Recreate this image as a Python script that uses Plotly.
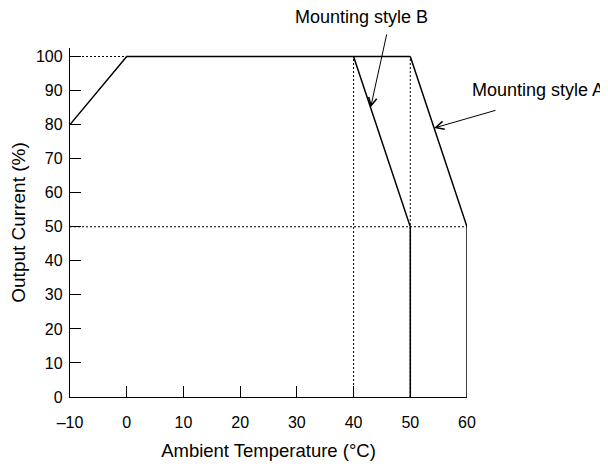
import plotly.graph_objects as go

# Data
base_x = [-10, 0, 50]
base_y = [80, 100, 100]
style_a_x = [50, 60, 60]
style_a_y = [100, 50, 0]
style_b_x = [40, 50, 50]
style_b_y = [100, 50, 0]
x_ticks = [-10, 0, 10, 20, 30, 40, 50, 60]
x_tick_labels = ["\u201310", "0", "10", "20", "30", "40", "50", "60"]
y_ticks = [0, 10, 20, 30, 40, 50, 60, 70, 80, 90, 100]

FONT = "Liberation Sans, Arial, sans-serif"
line_style = dict(color="black", width=1.5)
dot_style = dict(color="black", width=1, dash="2px,2px")

W, H = 608, 466
OFF = 8  # page body margin offset
# plot box in page pixels
PL, PR, PT, PB = 70, 467, 48, 397.3
L, T = PL - OFF, PT - OFF
R, B = W - (PR - OFF), H - (PB - OFF)
XR = [-10, 60]
YR = [0, 102.5]
pw, ph = W - L - R, H - T - B


def page_to_paper(px, py):
    return (px - PL) / pw, 1 - (py - PT) / ph


def data_to_page(x, y):
    return PL + (x - XR[0]) / (XR[1] - XR[0]) * pw, PT + (1 - (y - YR[0]) / (YR[1] - YR[0])) * ph


fig = go.Figure()
# reference dotted guides
fig.add_trace(go.Scatter(x=[-10, 0], y=[100, 100], mode="lines", line=dot_style, hoverinfo="skip"))
fig.add_trace(go.Scatter(x=[-10, 60], y=[50, 50], mode="lines", line=dot_style, hoverinfo="skip"))
fig.add_trace(go.Scatter(x=[40, 40], y=[0, 100], mode="lines", line=dot_style, hoverinfo="skip"))
fig.add_trace(go.Scatter(x=[50, 50], y=[0, 100], mode="lines", line=dot_style, hoverinfo="skip"))
# curves
fig.add_trace(go.Scatter(x=base_x, y=base_y, mode="lines", line=line_style))
fig.add_trace(go.Scatter(x=style_a_x, y=style_a_y, mode="lines", line=line_style))
fig.add_trace(go.Scatter(x=style_b_x, y=style_b_y, mode="lines", line=line_style))

# arrows: head at a point on each curve, tail near the label
for (hx, hy), (tx, ty) in [((43, 85), (387, 33)), ((54.2, 79), (497, 110))]:
    hpx, hpy = data_to_page(hx, hy)
    fig.add_annotation(x=hx, y=hy, xref="x", yref="y", ax=tx - hpx, ay=ty - hpy,
                       text="", showarrow=True, arrowhead=5, arrowsize=1.6, arrowwidth=1,
                       arrowcolor="black")

for label, (cx, cy) in [("Mounting style B", (361, 17)), ("Mounting style A", (538, 90))]:
    xp, yp = page_to_paper(cx, cy)
    fig.add_annotation(x=xp, y=yp, xref="paper", yref="paper", text=label, showarrow=False,
                       xanchor="center", yanchor="middle", borderpad=0,
                       font=dict(family=FONT, size=18, color="black"))

fig.update_layout(
    width=W, height=H,
    margin=dict(l=L, r=R, t=T, b=B),
    plot_bgcolor="white", paper_bgcolor="white",
    showlegend=False,
    font=dict(family=FONT, size=16, color="black"),
    xaxis=dict(range=XR, tickvals=x_ticks, ticktext=x_tick_labels, ticks="inside", ticklen=11,
               tickwidth=1, tickcolor="black", showline=True, linecolor="black", linewidth=1.3,
               showgrid=False, zeroline=False, automargin=False, ticklabelstandoff=11,
               title=dict(text="Ambient Temperature (\u00b0C)", font=dict(size=18.5), standoff=13),
               tickfont=dict(size=16)),
    yaxis=dict(range=YR, tickvals=y_ticks, ticks="inside", ticklen=11,
               tickwidth=1, tickcolor="black", showline=True, linecolor="black", linewidth=1.3,
               showgrid=False, zeroline=False, automargin=False, ticklabelstandoff=3,
               title=dict(text="Output Current (%)", font=dict(size=19), standoff=6),
               tickfont=dict(size=16)),
)

fig.write_html("out.html")
